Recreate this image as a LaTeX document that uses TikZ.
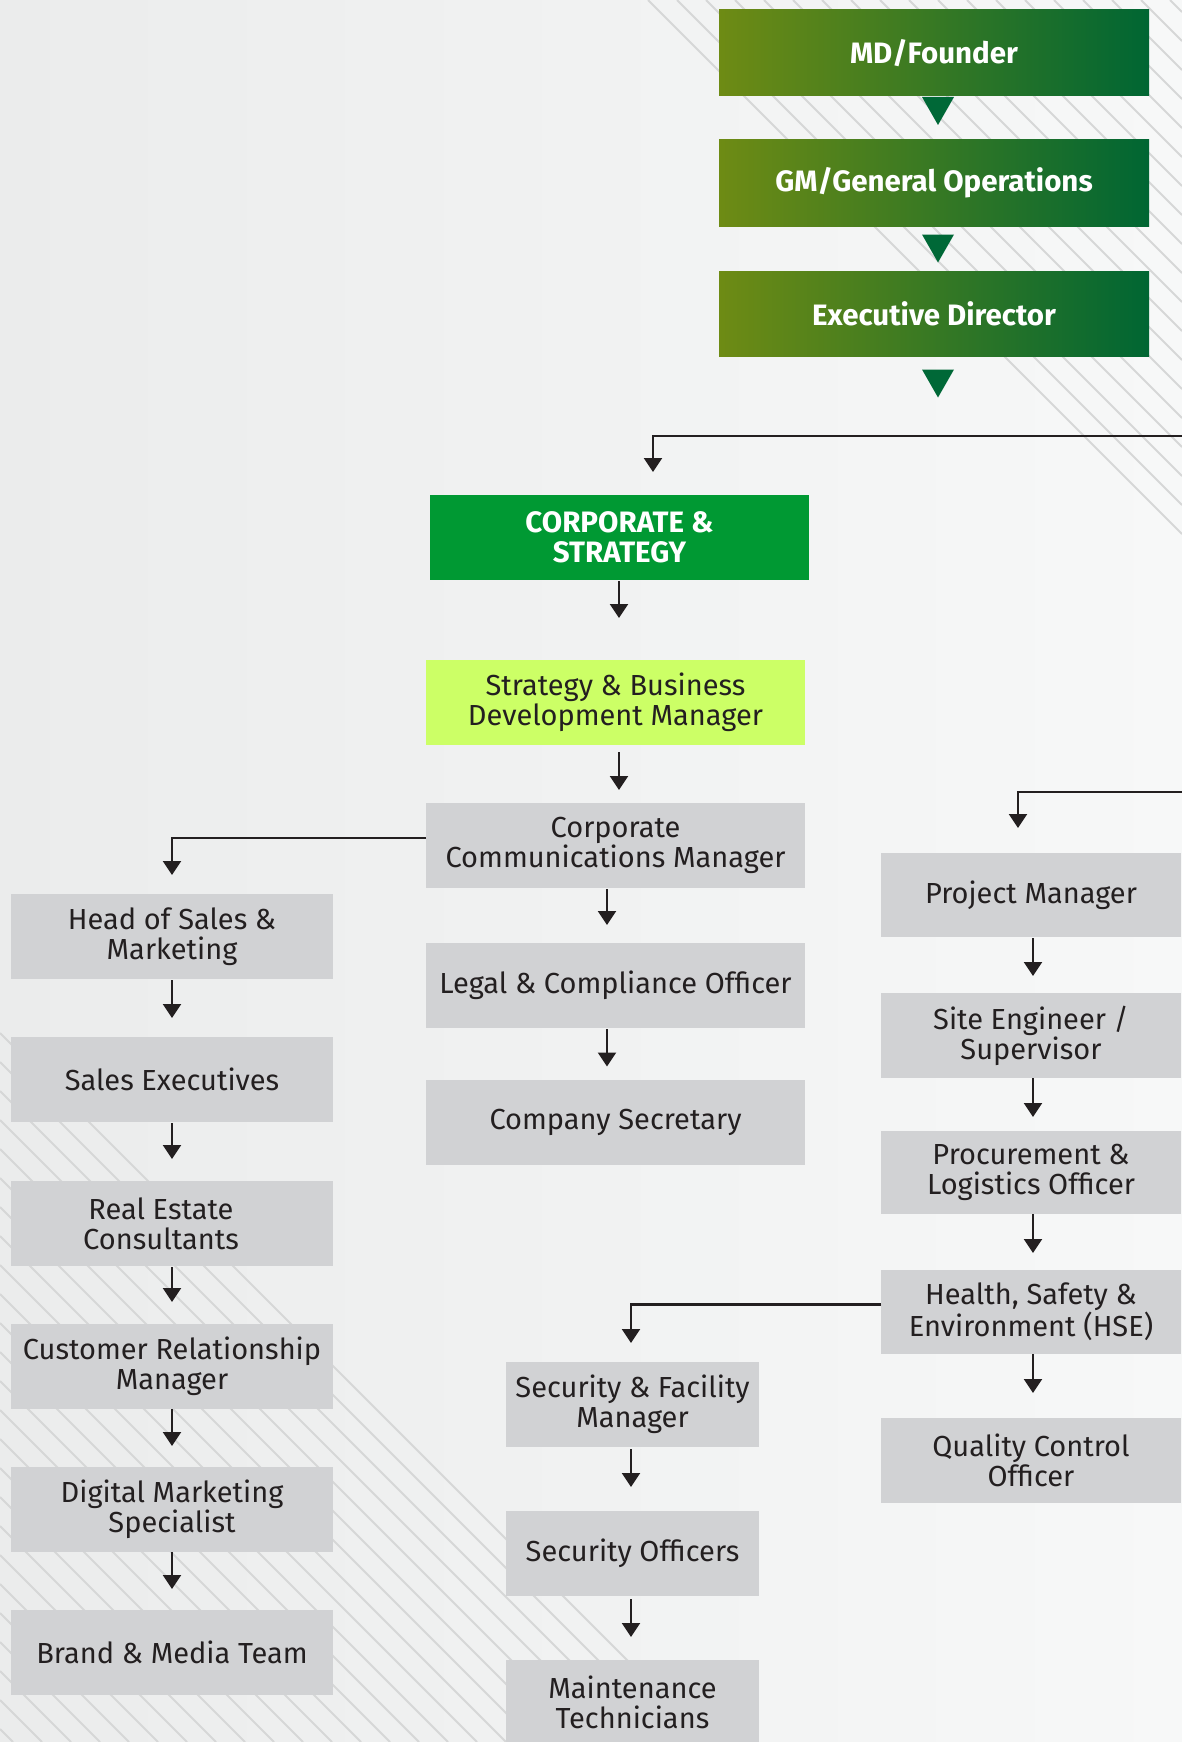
\documentclass[tikz,border=0pt]{standalone}
\usepackage{fontspec}
\setmainfont{Fira Sans}
\usetikzlibrary{arrows.meta,calc}
\definecolor{bgL}{HTML}{EBECEC}
\definecolor{bgR}{HTML}{F7F8F8}
\definecolor{stripe}{HTML}{D6D7D7}
\definecolor{gL}{HTML}{6E8B14}
\definecolor{gR}{HTML}{006633}
\definecolor{trig}{HTML}{006837}
\definecolor{csg}{HTML}{009933}
\definecolor{lime}{HTML}{CCFF66}
\definecolor{boxg}{HTML}{D1D2D4}
\definecolor{ink}{HTML}{231F20}
\begin{document}
\begin{tikzpicture}[x=1pt,y=-1pt,
  base/.style={inner sep=0pt, outer sep=0pt, align=center, text=ink,
    font=\fontsize{29}{30}\selectfont},
  topbox/.style={base, minimum width=430pt, minimum height=86pt,
    left color=gL, right color=gR, text=white,
    font=\fontsize{29.5}{30.5}\selectfont\bfseries},
  csbox/.style={base, minimum width=379pt, minimum height=85pt, fill=csg,
    text=white, font=\fontsize{29.5}{30.5}\selectfont\bfseries},
  limebox/.style={base, minimum width=379pt, minimum height=85pt, fill=lime},
  midbox/.style={base, minimum width=379pt, minimum height=85pt, fill=boxg},
  leftbox/.style={base, minimum width=322pt, minimum height=85pt, fill=boxg},
  rightbox/.style={base, minimum width=300pt, minimum height=84pt, fill=boxg},
  secbox/.style={base, minimum width=253pt, minimum height=85pt, fill=boxg},
  arr/.style={draw=ink, line width=2.2pt, -{Triangle[width=18pt,length=14pt]}},
  gtri/.style={fill=trig},
  stripeline/.style={draw=stripe, line width=2pt}
]
\useasboundingbox (0,0) rectangle (1182,1742);
% background
\shade[left color=bgL, right color=bgR] (0,0) rectangle (1182,1742);
\begin{scope}
\clip (0,0) rectangle (1182,1742);
\foreach \k in {0,...,19}{
  \pgfmathsetmacro{\c}{648+29*\k}
  \draw[stripeline] (\c,0) -- (1182,1182-\c);
}
\foreach \k in {0,...,25}{
  \pgfmathsetmacro{\c}{1033+29*\k}
  \draw[stripeline] (0,\c) -- (1742-\c,1742);
}
\end{scope}

% top green chain
\node[topbox] (md) at (934,53) {MD/Founder};
\node[topbox] (gm) at (934,183) {GM/General Operations};
\node[topbox, minimum height=85pt] (ed) at (934,313.5) {Executive Director};
\fill[gtri] ([xshift=-12pt,yshift=-1pt]md.south) -- ++(32,0) -- ++(-16,28) -- cycle;
\fill[gtri] ([xshift=-12pt,yshift=-8.5pt]gm.south) -- ++(32,0) -- ++(-16,28) -- cycle;
\fill[gtri] ([xshift=-12pt,yshift=-13.5pt]ed.south) -- ++(32,0) -- ++(-16,28) -- cycle;

% centre column
\node[csbox] (cs) at (619.5,537.5) {CORPORATE \&\\STRATEGY};
\node[limebox] (sbd) at (615.5,702.5) {Strategy \& Business\\Development Manager};
\node[midbox] (ccm) at (615.5,845.5) {Corporate\\Communications Manager};
\node[midbox] (legal) at (615.5,985.5) {Legal \& Compliance Officer};
\node[midbox] (csec) at (615.5,1122) {Company Secretary};

% left column
\node[leftbox] (hsm) at (172,936.5) {Head of Sales \&\\Marketing};
\node[leftbox] (sex) at (172,1079.5) {Sales Executives};
\node[leftbox] (rec) at (172,1223.5) {Real Estate\hspace*{22pt}\\Consultants\hspace*{22pt}};
\node[leftbox] (crm) at (172,1366.5) {Customer Relationship\\Manager};
\node[leftbox] (dms) at (172,1509.5) {Digital Marketing\\Specialist};
\node[leftbox] (bmt) at (172,1652.5) {Brand \& Media Team};

% right column
\node[rightbox] (pm) at (1031,895) {Project Manager};
\node[rightbox, minimum height=85pt] (sesup) at (1031,1035.5) {Site Engineer /\\Supervisor};
\node[rightbox, minimum height=83pt] (plo) at (1031,1172.5) {Procurement \&\\Logistics Officer};
\node[rightbox] (hse) at (1031,1312) {Health, Safety \&\\Environment (HSE)};
\node[rightbox, minimum height=85pt] (qco) at (1031,1460.5) {Quality Control\\Officer};

% security column
\node[secbox] (sfm) at (632.5,1404.5) {Security \& Facility\\Manager};
\node[secbox] (so) at (632.5,1553.5) {Security Officers};
\node[secbox] (mt) at (632.5,1702.5) {Maintenance\\Technicians};

% incoming lines from the right edge
\coordinate (rin1) at (1182,436);
\coordinate (rin2) at (1182,792);
\draw[arr] (rin1) -| ($(cs.north)+(33.5,-23)$);
\draw[arr] (rin2) -| ($(pm.north)+(-13,-25)$);

% branch lines
\draw[arr] ($(ccm.west)+(0,-7.5)$) -| ($(hsm.north)+(0,-19)$);
\draw[arr] ($(hse.west)+(0,-7.5)$) -| ($(sfm.north)+(-1.5,-19)$);

% vertical arrows
\draw[arr] ($(cs.south)+(-0.5,1)$) -- ($(sbd.north)+(3.5,-42)$);
\draw[arr] ($(sbd.south)+(3.5,7)$) -- ($(ccm.north)+(3.5,-13)$);
\draw[arr] ($(ccm.south)+(-8.5,1)$) -- ($(legal.north)+(-8.5,-18)$);
\draw[arr] ($(legal.south)+(-8.5,1)$) -- ($(csec.north)+(-8.5,-13)$);

\draw[arr] ($(hsm.south)+(0,1)$) -- ($(sex.north)+(0,-19)$);
\draw[arr] ($(sex.south)+(0,1)$) -- ($(rec.north)+(0,-22)$);
\draw[arr] ($(rec.south)+(0,1)$) -- ($(crm.north)+(0,-22)$);
\draw[arr] ($(crm.south)+(0,0)$) -- ($(dms.north)+(0,-21)$);
\draw[arr] ($(dms.south)+(0,0)$) -- ($(bmt.north)+(0,-21)$);

\draw[arr] ($(pm.south)+(2,1)$) -- ($(sesup.north)+(2,-17)$);
\draw[arr] ($(sesup.south)+(2,0)$) -- ($(plo.north)+(2,-14)$);
\draw[arr] ($(plo.south)+(2,0)$) -- ($(hse.north)+(2,-17)$);
\draw[arr] ($(hse.south)+(2,0)$) -- ($(qco.north)+(2,-25)$);

\draw[arr] ($(sfm.south)+(-1.5,2)$) -- ($(so.north)+(-1.5,-24)$);
\draw[arr] ($(so.south)+(-1.5,3)$) -- ($(mt.north)+(-1.5,-23)$);
\end{tikzpicture}
\end{document}
